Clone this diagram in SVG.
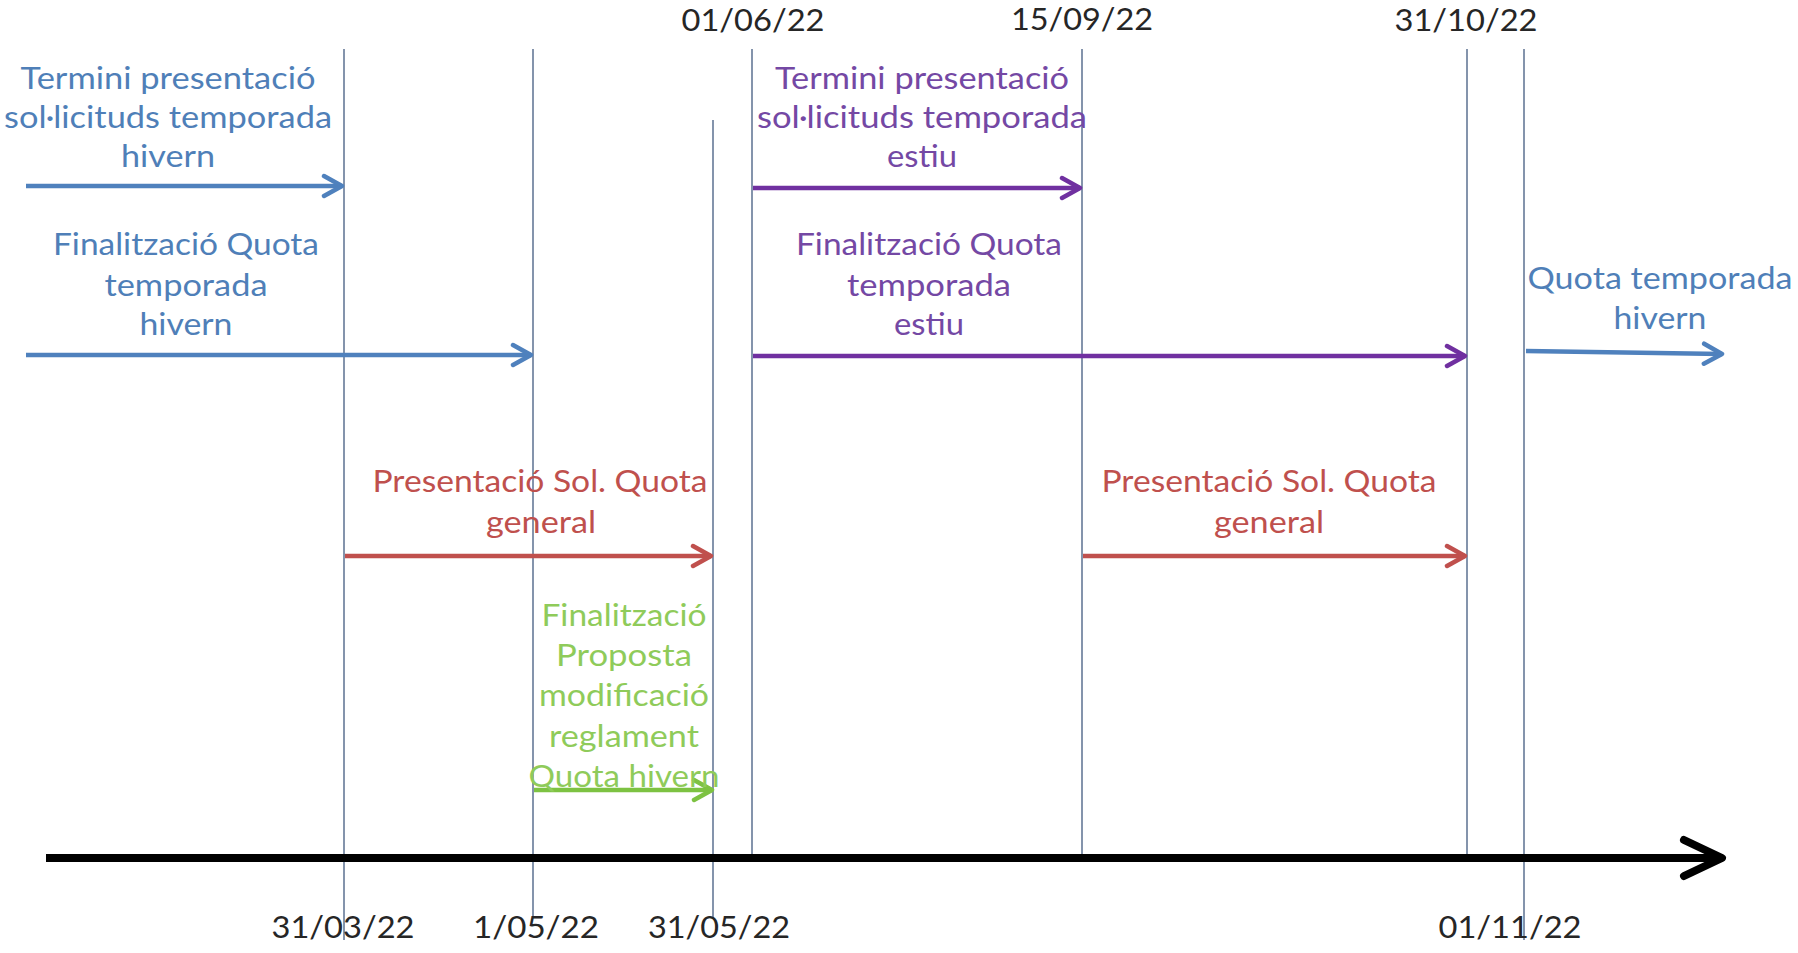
<svg xmlns="http://www.w3.org/2000/svg" width="1798" height="953" viewBox="0 0 1798 953">
<defs>
<style>
text{font-family:Lato,"Open Sans","Liberation Sans",sans-serif;font-size:30px;text-anchor:middle}
.date{fill:#262626}
.tb{fill:#4F7FB8}
.tp{fill:#7448A4}
.tr{fill:#BF504D}
.tg{fill:#8FCB5A}
.grid{stroke:#5B7090;stroke-width:1.5;fill:none}
.ab{stroke:#4F81BD;stroke-width:4.5;fill:none;marker-end:url(#mb)}
.ap{stroke:#7030A0;stroke-width:4.5;fill:none;marker-end:url(#mp)}
.ar{stroke:#C0504D;stroke-width:4.5;fill:none;marker-end:url(#mr)}
.ag{stroke:#7DC242;stroke-width:4.5;fill:none;marker-end:url(#mg)}
.ak{stroke:#000;stroke-width:8;fill:none;marker-end:url(#mk)}
</style>
<marker id="mb" markerUnits="userSpaceOnUse" viewBox="0 0 24 26" refX="21" refY="13" markerWidth="24" markerHeight="26" orient="auto"><path d="M3,3 L21,13 L3,23" fill="none" stroke="#4F81BD" stroke-width="4.5" stroke-linecap="round" stroke-linejoin="round"/></marker>
<marker id="mp" markerUnits="userSpaceOnUse" viewBox="0 0 24 26" refX="21" refY="13" markerWidth="24" markerHeight="26" orient="auto"><path d="M3,3 L21,13 L3,23" fill="none" stroke="#7030A0" stroke-width="4.5" stroke-linecap="round" stroke-linejoin="round"/></marker>
<marker id="mr" markerUnits="userSpaceOnUse" viewBox="0 0 24 26" refX="21" refY="13" markerWidth="24" markerHeight="26" orient="auto"><path d="M3,3 L21,13 L3,23" fill="none" stroke="#C0504D" stroke-width="4.5" stroke-linecap="round" stroke-linejoin="round"/></marker>
<marker id="mg" markerUnits="userSpaceOnUse" viewBox="0 0 24 26" refX="21" refY="13" markerWidth="24" markerHeight="26" orient="auto"><path d="M3,3 L21,13 L3,23" fill="none" stroke="#7DC242" stroke-width="4.5" stroke-linecap="round" stroke-linejoin="round"/></marker>
<marker id="mk" markerUnits="userSpaceOnUse" viewBox="0 0 48 46" refX="43" refY="23" markerWidth="48" markerHeight="46" orient="auto"><path d="M5,5 L43,23 L5,41" fill="none" stroke="#000" stroke-width="8" stroke-linecap="round" stroke-linejoin="round"/></marker>
</defs>
<rect width="1798" height="953" fill="#fff"/>

<g id="gridlines">
<line class="grid" x1="344" y1="49" x2="344" y2="940"/>
<line class="grid" x1="533" y1="49" x2="533" y2="917"/>
<line class="grid" x1="713" y1="120" x2="713" y2="918"/>
<line class="grid" x1="752" y1="49" x2="752" y2="858"/>
<line class="grid" x1="1082" y1="49" x2="1082" y2="858"/>
<line class="grid" x1="1467" y1="49" x2="1467" y2="858"/>
<line class="grid" x1="1524" y1="49" x2="1524" y2="940"/>
</g>

<g id="connectors">
<line class="ak" x1="46" y1="858" x2="1722" y2="858"/>
<line class="ab" x1="26" y1="186" x2="342" y2="186"/>
<line class="ab" x1="26" y1="355" x2="531" y2="355"/>
<line class="ap" x1="753" y1="188" x2="1080" y2="188"/>
<line class="ap" x1="753" y1="356" x2="1465" y2="356"/>
<line class="ab" x1="1526" y1="351" x2="1722" y2="354"/>
<line class="ar" x1="345" y1="556" x2="711" y2="556"/>
<line class="ar" x1="1083" y1="556" x2="1465" y2="556"/>
<line class="ag" x1="534" y1="790" x2="712" y2="790"/>
</g>

<g id="date-top">
<text class="date" x="753" y="31" textLength="143" lengthAdjust="spacingAndGlyphs">01/06/22</text>
<text class="date" x="1082" y="30" textLength="142" lengthAdjust="spacingAndGlyphs">15/09/22</text>
<text class="date" x="1466" y="31" textLength="143" lengthAdjust="spacingAndGlyphs">31/10/22</text>
</g>
<g id="date-bottom">
<text class="date" x="343" y="938" textLength="143" lengthAdjust="spacingAndGlyphs">31/03/22</text>
<text class="date" x="536" y="938" textLength="126" lengthAdjust="spacingAndGlyphs">1/05/22</text>
<text class="date" x="719" y="938" textLength="142" lengthAdjust="spacingAndGlyphs">31/05/22</text>
<text class="date" x="1510" y="938" textLength="143" lengthAdjust="spacingAndGlyphs">01/11/22</text>
</g>

<g id="termini-hivern">
<text class="tb" x="168" y="89" textLength="295" lengthAdjust="spacingAndGlyphs">Termini presentació</text>
<text class="tb" x="168" y="128" textLength="328" lengthAdjust="spacingAndGlyphs">sol·licituds temporada</text>
<text class="tb" x="168" y="167" textLength="94" lengthAdjust="spacingAndGlyphs">hivern</text>
</g>
<g id="finalitzacio-hivern">
<text class="tb" x="186" y="255" textLength="266" lengthAdjust="spacingAndGlyphs">Finalització Quota</text>
<text class="tb" x="186" y="296" textLength="163" lengthAdjust="spacingAndGlyphs">temporada</text>
<text class="tb" x="186" y="335" textLength="93" lengthAdjust="spacingAndGlyphs">hivern</text>
</g>
<g id="termini-estiu">
<text class="tp" x="922" y="89" textLength="294" lengthAdjust="spacingAndGlyphs">Termini presentació</text>
<text class="tp" x="922" y="128" textLength="330" lengthAdjust="spacingAndGlyphs">sol·licituds temporada</text>
<text class="tp" x="922" y="167" textLength="70" lengthAdjust="spacingAndGlyphs">estiu</text>
</g>
<g id="finalitzacio-estiu">
<text class="tp" x="929" y="255" textLength="266" lengthAdjust="spacingAndGlyphs">Finalització Quota</text>
<text class="tp" x="929" y="296" textLength="164" lengthAdjust="spacingAndGlyphs">temporada</text>
<text class="tp" x="929" y="335" textLength="70" lengthAdjust="spacingAndGlyphs">estiu</text>
</g>
<g id="quota-hivern">
<text class="tb" x="1660" y="289" textLength="265" lengthAdjust="spacingAndGlyphs">Quota temporada</text>
<text class="tb" x="1660" y="329" textLength="93" lengthAdjust="spacingAndGlyphs">hivern</text>
</g>
<g id="presentacio-1">
<text class="tr" x="540" y="492" textLength="335" lengthAdjust="spacingAndGlyphs">Presentació Sol. Quota</text>
<text class="tr" x="541" y="533" textLength="110" lengthAdjust="spacingAndGlyphs">general</text>
</g>
<g id="presentacio-2">
<text class="tr" x="1269" y="492" textLength="335" lengthAdjust="spacingAndGlyphs">Presentació Sol. Quota</text>
<text class="tr" x="1269" y="533" textLength="110" lengthAdjust="spacingAndGlyphs">general</text>
</g>
<g id="proposta-modificacio">
<text class="tg" x="624" y="626" textLength="165" lengthAdjust="spacingAndGlyphs">Finalització</text>
<text class="tg" x="624" y="666" textLength="136" lengthAdjust="spacingAndGlyphs">Proposta</text>
<text class="tg" x="624" y="706" textLength="170" lengthAdjust="spacingAndGlyphs">modificació</text>
<text class="tg" x="624" y="747" textLength="150" lengthAdjust="spacingAndGlyphs">reglament</text>
<text class="tg" x="624" y="787" textLength="191" lengthAdjust="spacingAndGlyphs">Quota hivern</text>
</g>
</svg>
